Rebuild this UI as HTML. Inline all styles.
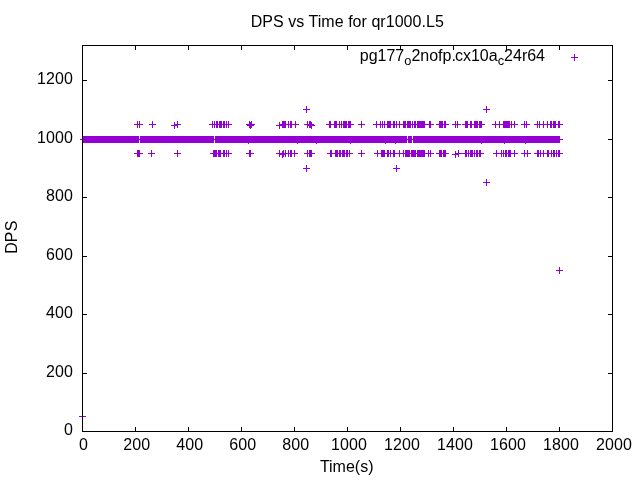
<!DOCTYPE html>
<html><head><meta charset="utf-8"><title>DPS vs Time for qr1000.L5</title>
<style>
html,body{margin:0;padding:0;background:#fff;}
svg{display:block;}
text{font-family:"Liberation Sans",Arial,sans-serif;font-size:16px;fill:#000;}
.t{letter-spacing:0.12px;}
</style></head><body>
<svg width="640" height="480" viewBox="0 0 640 480">
<rect width="640" height="480" fill="#fff"/>
<path d="M135 427h1v4h-1zM135 46h1v4h-1zM188 427h1v4h-1zM188 46h1v4h-1zM241 427h1v4h-1zM241 46h1v4h-1zM294 427h1v4h-1zM294 46h1v4h-1zM347 427h1v4h-1zM347 46h1v4h-1zM400 427h1v4h-1zM400 46h1v4h-1zM453 427h1v4h-1zM453 46h1v4h-1zM506 427h1v4h-1zM506 46h1v4h-1zM559 427h1v4h-1zM559 46h1v4h-1zM83 373h4v1h-4zM608 373h4v1h-4zM83 314h4v1h-4zM608 314h4v1h-4zM83 256h4v1h-4zM608 256h4v1h-4zM83 197h4v1h-4zM608 197h4v1h-4zM83 139h4v1h-4zM608 139h4v1h-4zM83 80h4v1h-4zM608 80h4v1h-4z" fill="#000" shape-rendering="crispEdges"/>
<path d="M80 139h483v1h-483zM83 136h56v7h-56zM140 136h74v7h-74zM215 136h192v7h-192zM408 136h4v7h-4zM413 136h147v7h-147z" fill="#9400d3" shape-rendering="crispEdges"/>
<path d="M134 124h7v1h-7zM137 121h1v7h-1zM136 124h7v1h-7zM139 121h1v7h-1zM149 124h7v1h-7zM152 121h1v7h-1zM174 124h7v1h-7zM177 121h1v7h-1zM209 124h7v1h-7zM212 121h1v7h-1zM211 124h7v1h-7zM214 121h1v7h-1zM213 124h7v1h-7zM216 121h1v7h-1zM214 124h7v1h-7zM217 121h1v7h-1zM216 124h7v1h-7zM219 121h1v7h-1zM217 124h7v1h-7zM220 121h1v7h-1zM218 124h7v1h-7zM221 121h1v7h-1zM220 124h7v1h-7zM223 121h1v7h-1zM221 124h7v1h-7zM224 121h1v7h-1zM223 124h7v1h-7zM226 121h1v7h-1zM225 124h7v1h-7zM228 121h1v7h-1zM246 124h7v1h-7zM249 121h1v7h-1zM248 124h7v1h-7zM251 121h1v7h-1zM279 124h7v1h-7zM282 121h1v7h-1zM280 124h7v1h-7zM283 121h1v7h-1zM281 124h7v1h-7zM284 121h1v7h-1zM282 124h7v1h-7zM285 121h1v7h-1zM285 124h7v1h-7zM288 121h1v7h-1zM287 124h7v1h-7zM290 121h1v7h-1zM288 124h7v1h-7zM291 121h1v7h-1zM292 124h7v1h-7zM295 121h1v7h-1zM304 124h7v1h-7zM307 121h1v7h-1zM306 124h7v1h-7zM309 121h1v7h-1zM307 124h7v1h-7zM310 121h1v7h-1zM326 124h7v1h-7zM329 121h1v7h-1zM327 124h7v1h-7zM330 121h1v7h-1zM331 124h7v1h-7zM334 121h1v7h-1zM332 124h7v1h-7zM335 121h1v7h-1zM333 124h7v1h-7zM336 121h1v7h-1zM336 124h7v1h-7zM339 121h1v7h-1zM338 124h7v1h-7zM341 121h1v7h-1zM340 124h7v1h-7zM343 121h1v7h-1zM341 124h7v1h-7zM344 121h1v7h-1zM342 124h7v1h-7zM345 121h1v7h-1zM343 124h7v1h-7zM346 121h1v7h-1zM345 124h7v1h-7zM348 121h1v7h-1zM346 124h7v1h-7zM349 121h1v7h-1zM347 124h7v1h-7zM350 121h1v7h-1zM358 124h7v1h-7zM361 121h1v7h-1zM373 124h7v1h-7zM376 121h1v7h-1zM377 124h7v1h-7zM380 121h1v7h-1zM379 124h7v1h-7zM382 121h1v7h-1zM381 124h7v1h-7zM384 121h1v7h-1zM384 124h7v1h-7zM387 121h1v7h-1zM385 124h7v1h-7zM388 121h1v7h-1zM386 124h7v1h-7zM389 121h1v7h-1zM387 124h7v1h-7zM390 121h1v7h-1zM390 124h7v1h-7zM393 121h1v7h-1zM391 124h7v1h-7zM394 121h1v7h-1zM393 124h7v1h-7zM396 121h1v7h-1zM396 124h7v1h-7zM399 121h1v7h-1zM400 124h7v1h-7zM403 121h1v7h-1zM401 124h7v1h-7zM404 121h1v7h-1zM402 124h7v1h-7zM405 121h1v7h-1zM404 124h7v1h-7zM407 121h1v7h-1zM405 124h7v1h-7zM408 121h1v7h-1zM406 124h7v1h-7zM409 121h1v7h-1zM407 124h7v1h-7zM410 121h1v7h-1zM409 124h7v1h-7zM412 121h1v7h-1zM411 124h7v1h-7zM414 121h1v7h-1zM412 124h7v1h-7zM415 121h1v7h-1zM414 124h7v1h-7zM417 121h1v7h-1zM415 124h7v1h-7zM418 121h1v7h-1zM416 124h7v1h-7zM419 121h1v7h-1zM417 124h7v1h-7zM420 121h1v7h-1zM418 124h7v1h-7zM421 121h1v7h-1zM419 124h7v1h-7zM422 121h1v7h-1zM420 124h7v1h-7zM423 121h1v7h-1zM421 124h7v1h-7zM424 121h1v7h-1zM426 124h7v1h-7zM429 121h1v7h-1zM427 124h7v1h-7zM430 121h1v7h-1zM436 124h7v1h-7zM439 121h1v7h-1zM437 124h7v1h-7zM440 121h1v7h-1zM438 124h7v1h-7zM441 121h1v7h-1zM439 124h7v1h-7zM442 121h1v7h-1zM441 124h7v1h-7zM444 121h1v7h-1zM442 124h7v1h-7zM445 121h1v7h-1zM452 124h7v1h-7zM455 121h1v7h-1zM454 124h7v1h-7zM457 121h1v7h-1zM462 124h7v1h-7zM465 121h1v7h-1zM463 124h7v1h-7zM466 121h1v7h-1zM464 124h7v1h-7zM467 121h1v7h-1zM467 124h7v1h-7zM470 121h1v7h-1zM468 124h7v1h-7zM471 121h1v7h-1zM471 124h7v1h-7zM474 121h1v7h-1zM472 124h7v1h-7zM475 121h1v7h-1zM473 124h7v1h-7zM476 121h1v7h-1zM474 124h7v1h-7zM477 121h1v7h-1zM476 124h7v1h-7zM479 121h1v7h-1zM477 124h7v1h-7zM480 121h1v7h-1zM478 124h7v1h-7zM481 121h1v7h-1zM492 124h7v1h-7zM495 121h1v7h-1zM496 124h7v1h-7zM499 121h1v7h-1zM500 124h7v1h-7zM503 121h1v7h-1zM501 124h7v1h-7zM504 121h1v7h-1zM502 124h7v1h-7zM505 121h1v7h-1zM503 124h7v1h-7zM506 121h1v7h-1zM504 124h7v1h-7zM507 121h1v7h-1zM505 124h7v1h-7zM508 121h1v7h-1zM506 124h7v1h-7zM509 121h1v7h-1zM508 124h7v1h-7zM511 121h1v7h-1zM511 124h7v1h-7zM514 121h1v7h-1zM521 124h7v1h-7zM524 121h1v7h-1zM523 124h7v1h-7zM526 121h1v7h-1zM534 124h7v1h-7zM537 121h1v7h-1zM536 124h7v1h-7zM539 121h1v7h-1zM540 124h7v1h-7zM543 121h1v7h-1zM544 124h7v1h-7zM547 121h1v7h-1zM547 124h7v1h-7zM550 121h1v7h-1zM548 124h7v1h-7zM551 121h1v7h-1zM550 124h7v1h-7zM553 121h1v7h-1zM551 124h7v1h-7zM554 121h1v7h-1zM552 124h7v1h-7zM555 121h1v7h-1zM555 124h7v1h-7zM558 121h1v7h-1zM556 124h7v1h-7zM559 121h1v7h-1zM171 125h7v1h-7zM174 122h1v7h-1zM247 125h7v1h-7zM250 122h1v7h-1zM276 125h7v1h-7zM279 122h1v7h-1zM308 125h7v1h-7zM311 122h1v7h-1zM134 153h7v1h-7zM137 150h1v7h-1zM135 153h7v1h-7zM138 150h1v7h-1zM136 153h7v1h-7zM139 150h1v7h-1zM148 153h7v1h-7zM151 150h1v7h-1zM174 153h7v1h-7zM177 150h1v7h-1zM210 153h7v1h-7zM213 150h1v7h-1zM211 153h7v1h-7zM214 150h1v7h-1zM212 153h7v1h-7zM215 150h1v7h-1zM213 153h7v1h-7zM216 150h1v7h-1zM215 153h7v1h-7zM218 150h1v7h-1zM216 153h7v1h-7zM219 150h1v7h-1zM217 153h7v1h-7zM220 150h1v7h-1zM220 153h7v1h-7zM223 150h1v7h-1zM221 153h7v1h-7zM224 150h1v7h-1zM223 153h7v1h-7zM226 150h1v7h-1zM225 153h7v1h-7zM228 150h1v7h-1zM246 153h7v1h-7zM249 150h1v7h-1zM247 153h7v1h-7zM250 150h1v7h-1zM276 153h7v1h-7zM279 150h1v7h-1zM280 153h7v1h-7zM283 150h1v7h-1zM282 153h7v1h-7zM285 150h1v7h-1zM285 153h7v1h-7zM288 150h1v7h-1zM287 153h7v1h-7zM290 150h1v7h-1zM288 153h7v1h-7zM291 150h1v7h-1zM291 153h7v1h-7zM294 150h1v7h-1zM304 153h7v1h-7zM307 150h1v7h-1zM306 153h7v1h-7zM309 150h1v7h-1zM307 153h7v1h-7zM310 150h1v7h-1zM308 153h7v1h-7zM311 150h1v7h-1zM327 153h7v1h-7zM330 150h1v7h-1zM328 153h7v1h-7zM331 150h1v7h-1zM332 153h7v1h-7zM335 150h1v7h-1zM333 153h7v1h-7zM336 150h1v7h-1zM334 153h7v1h-7zM337 150h1v7h-1zM336 153h7v1h-7zM339 150h1v7h-1zM337 153h7v1h-7zM340 150h1v7h-1zM339 153h7v1h-7zM342 150h1v7h-1zM340 153h7v1h-7zM343 150h1v7h-1zM341 153h7v1h-7zM344 150h1v7h-1zM343 153h7v1h-7zM346 150h1v7h-1zM344 153h7v1h-7zM347 150h1v7h-1zM346 153h7v1h-7zM349 150h1v7h-1zM358 153h7v1h-7zM361 150h1v7h-1zM374 153h7v1h-7zM377 150h1v7h-1zM378 153h7v1h-7zM381 150h1v7h-1zM379 153h7v1h-7zM382 150h1v7h-1zM380 153h7v1h-7zM383 150h1v7h-1zM381 153h7v1h-7zM384 150h1v7h-1zM384 153h7v1h-7zM387 150h1v7h-1zM385 153h7v1h-7zM388 150h1v7h-1zM387 153h7v1h-7zM390 150h1v7h-1zM390 153h7v1h-7zM393 150h1v7h-1zM391 153h7v1h-7zM394 150h1v7h-1zM396 153h7v1h-7zM399 150h1v7h-1zM400 153h7v1h-7zM403 150h1v7h-1zM402 153h7v1h-7zM405 150h1v7h-1zM403 153h7v1h-7zM406 150h1v7h-1zM404 153h7v1h-7zM407 150h1v7h-1zM405 153h7v1h-7zM408 150h1v7h-1zM406 153h7v1h-7zM409 150h1v7h-1zM408 153h7v1h-7zM411 150h1v7h-1zM409 153h7v1h-7zM412 150h1v7h-1zM410 153h7v1h-7zM413 150h1v7h-1zM411 153h7v1h-7zM414 150h1v7h-1zM412 153h7v1h-7zM415 150h1v7h-1zM414 153h7v1h-7zM417 150h1v7h-1zM415 153h7v1h-7zM418 150h1v7h-1zM416 153h7v1h-7zM419 150h1v7h-1zM417 153h7v1h-7zM420 150h1v7h-1zM418 153h7v1h-7zM421 150h1v7h-1zM419 153h7v1h-7zM422 150h1v7h-1zM420 153h7v1h-7zM423 150h1v7h-1zM421 153h7v1h-7zM424 150h1v7h-1zM425 153h7v1h-7zM428 150h1v7h-1zM427 153h7v1h-7zM430 150h1v7h-1zM436 153h7v1h-7zM439 150h1v7h-1zM437 153h7v1h-7zM440 150h1v7h-1zM438 153h7v1h-7zM441 150h1v7h-1zM440 153h7v1h-7zM443 150h1v7h-1zM441 153h7v1h-7zM444 150h1v7h-1zM442 153h7v1h-7zM445 150h1v7h-1zM455 153h7v1h-7zM458 150h1v7h-1zM462 153h7v1h-7zM465 150h1v7h-1zM463 153h7v1h-7zM466 150h1v7h-1zM465 153h7v1h-7zM468 150h1v7h-1zM467 153h7v1h-7zM470 150h1v7h-1zM468 153h7v1h-7zM471 150h1v7h-1zM469 153h7v1h-7zM472 150h1v7h-1zM471 153h7v1h-7zM474 150h1v7h-1zM473 153h7v1h-7zM476 150h1v7h-1zM474 153h7v1h-7zM477 150h1v7h-1zM476 153h7v1h-7zM479 150h1v7h-1zM477 153h7v1h-7zM480 150h1v7h-1zM493 153h7v1h-7zM496 150h1v7h-1zM498 153h7v1h-7zM501 150h1v7h-1zM500 153h7v1h-7zM503 150h1v7h-1zM502 153h7v1h-7zM505 150h1v7h-1zM503 153h7v1h-7zM506 150h1v7h-1zM505 153h7v1h-7zM508 150h1v7h-1zM506 153h7v1h-7zM509 150h1v7h-1zM507 153h7v1h-7zM510 150h1v7h-1zM511 153h7v1h-7zM514 150h1v7h-1zM521 153h7v1h-7zM524 150h1v7h-1zM524 153h7v1h-7zM527 150h1v7h-1zM534 153h7v1h-7zM537 150h1v7h-1zM535 153h7v1h-7zM538 150h1v7h-1zM537 153h7v1h-7zM540 150h1v7h-1zM540 153h7v1h-7zM543 150h1v7h-1zM544 153h7v1h-7zM547 150h1v7h-1zM545 153h7v1h-7zM548 150h1v7h-1zM548 153h7v1h-7zM551 150h1v7h-1zM550 153h7v1h-7zM553 150h1v7h-1zM551 153h7v1h-7zM554 150h1v7h-1zM553 153h7v1h-7zM556 150h1v7h-1zM555 153h7v1h-7zM558 150h1v7h-1zM556 153h7v1h-7zM559 150h1v7h-1zM279 154h7v1h-7zM282 151h1v7h-1zM452 154h7v1h-7zM455 151h1v7h-1zM245 140h7v1h-7zM248 137h1v7h-1zM294 140h7v1h-7zM297 137h1v7h-1zM313 140h7v1h-7zM316 137h1v7h-1zM347 140h7v1h-7zM350 137h1v7h-1zM382 140h7v1h-7zM385 137h1v7h-1zM392 140h7v1h-7zM395 137h1v7h-1zM478 140h7v1h-7zM481 137h1v7h-1zM501 140h7v1h-7zM504 137h1v7h-1zM522 140h7v1h-7zM525 137h1v7h-1zM303 109h7v1h-7zM306 106h1v7h-1zM303 168h7v1h-7zM306 165h1v7h-1zM393 168h7v1h-7zM396 165h1v7h-1zM483 109h7v1h-7zM486 106h1v7h-1zM483 182h7v1h-7zM486 179h1v7h-1zM556 270h7v1h-7zM559 267h1v7h-1zM571 57h7v1h-7zM574 54h1v7h-1zM79 416h7v1h-7zM82 413h1v7h-1z" fill="#9400d3" shape-rendering="crispEdges"/>
<path d="M82 45h531v387h-531zM83 46v385h529v-385z" fill="#000" fill-rule="evenodd" shape-rendering="crispEdges"/>
<text x="347.3" y="26.5" text-anchor="middle" style="letter-spacing:0.04px">DPS vs Time for qr1000.L5</text>
<text x="545" y="61" text-anchor="end">pg177<tspan font-size="12.8px" dy="4">o</tspan><tspan dy="-4">2nofp.</tspan><tspan dx="-0.9">cx10a</tspan><tspan font-size="12.8px" dy="4">c</tspan><tspan dy="-4">24r64</tspan></text>
<text class="t" x="83.4" y="450" text-anchor="middle">0</text><text class="t" x="136.8" y="450" text-anchor="middle">200</text><text class="t" x="189.8" y="450" text-anchor="middle">400</text><text class="t" x="242.8" y="450" text-anchor="middle">600</text><text class="t" x="295.8" y="450" text-anchor="middle">800</text><text class="t" x="349.1" y="450" text-anchor="middle">1000</text><text class="t" x="402.1" y="450" text-anchor="middle">1200</text><text class="t" x="455.1" y="450" text-anchor="middle">1400</text><text class="t" x="508.1" y="450" text-anchor="middle">1600</text><text class="t" x="561.1" y="450" text-anchor="middle">1800</text><text class="t" x="614.1" y="450" text-anchor="middle">2000</text>
<text class="t" x="73.1" y="435" text-anchor="end">0</text><text class="t" x="73.1" y="377" text-anchor="end">200</text><text class="t" x="73.1" y="318" text-anchor="end">400</text><text class="t" x="73.1" y="260" text-anchor="end">600</text><text class="t" x="73.1" y="201" text-anchor="end">800</text><text class="t" x="73.1" y="143" text-anchor="end">1000</text><text class="t" x="73.1" y="84" text-anchor="end">1200</text>
<text x="346.7" y="472" text-anchor="middle">Time(s)</text>
<text transform="translate(17 237.2) rotate(-90)" text-anchor="middle" style="letter-spacing:0.15px">DPS</text>
</svg>
</body></html>
